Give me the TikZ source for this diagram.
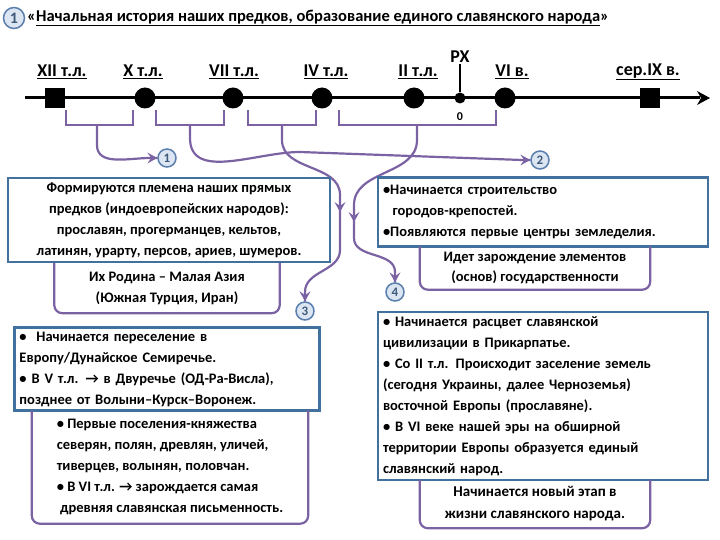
\documentclass[tikz,border=0pt]{standalone}
\usepackage{fontspec}
\setmainfont{Carlito}
\definecolor{bbox}{HTML}{41719C}
\definecolor{pur}{HTML}{7B62A3}
\definecolor{cfill}{HTML}{DCE6F2}
\definecolor{cbord}{HTML}{5A7FAE}
\newcommand\mytipd[2][pur]{\fill[#1] (#2) ++(-5.5,-10) -- (#2) -- ++(5.5,-10) -- ++(-5.5,4) -- cycle;}
\newcommand\mytipr[2][pur]{\fill[#1] (#2) ++(-10,-5.5) -- (#2) -- ++(-10,5.5) -- ++(4,-5.5) -- cycle;}
\begin{document}
\begin{tikzpicture}[x=1pt,y=-1pt,
  every node/.style={font=\bfseries\fontsize{14.5}{21}\selectfont},
  box/.style={draw=bbox,line width=2.5pt,fill=white,inner sep=4pt,align=center},
  sub/.style={inner sep=3pt,align=center},
  num/.style={circle,draw=cbord,line width=1.5pt,fill=cfill,inner sep=0pt,minimum size=18pt,font=\bfseries\fontsize{13}{13}\selectfont,text=cbord!70!black},
  plink/.style={draw=pur,line width=2.2pt},
  lab/.style={font=\bfseries\fontsize{18}{18}\selectfont,inner sep=1pt},
  dot/.style={circle,fill=black,inner sep=0pt,minimum size=21pt},
  sq/.style={fill=black,inner sep=0pt,minimum size=20pt}]
\useasboundingbox (0,0) rectangle (720,540);
% title
\node[num,minimum size=21pt,font=\bfseries\fontsize{16}{16}\selectfont] (t1) at (14,18) {1};
\node[anchor=west,inner sep=0pt,font=\bfseries\fontsize{16.5}{17}\selectfont] (title) at (27,18) {«\underline{Начальная история наших предков, образование единого славянского народа}»};
% timeline
\coordinate (ls) at (25,98);
\coordinate (le) at (710,98);
\draw[line width=3pt] (ls) -- (700,98);
\fill[black] (le) ++(-13,-7) -- (le) -- ++(-13,7) -- ++(4,-7) -- cycle;
\node[sq] (m1) at (55,98) {};
\node[dot] (m2) at (145,98) {};
\node[dot] (m3) at (233,98) {};
\node[dot] (m4) at (322,98) {};
\node[dot] (m5) at (414,98) {};
\node[circle,fill=black,inner sep=0pt,minimum size=11pt] (m0) at (460,98) {};
\node[dot] (m6) at (505,98) {};
\node[sq] (m7) at (650,98) {};
\node[lab] (l1) at (62,72) {\underline{XII т.л.}};
\node[lab] (l2) at (143,72) {\underline{X т.л.}};
\node[lab] (l3) at (234,72) {\underline{VII т.л.}};
\node[lab] (l4) at (326,72) {\underline{IV т.л.}};
\node[lab] (l5) at (418,72) {\underline{II т.л.}};
\node[lab] (l0) at (460,57) {PX};
\node[lab] (l6) at (512,72) {\underline{VI в.}};
\node[lab] (l7) at (648,72) {\underline{сер.IX в.}};
\node[font=\bfseries\fontsize{12}{12}\selectfont,inner sep=0pt] (z) at (460,117) {0};
\draw[line width=1.5pt] (l0.south) -- (m0);
% numbered circles
\node[num] (c1) at (167,158) {1};
\node[num] (c2) at (540,160) {2};
\node[num] (c3) at (305,311) {3};
\node[num] (c4) at (395,292) {4};
% brackets
\draw[plink] (66,110) -- (66,125) -- (133,125) -- (133,110);
\draw[plink] (156,110) -- (156,125) -- (224,125) -- (224,110);
\draw[plink] (248,110) -- (248,125) -- (316,125) -- (316,110);
\draw[plink] (339,110) -- (339,125) -- (496,125) -- (496,110);
% connectors
\draw[plink] (97,125) -- (97,145) to[out=-90,in=180] (150,158) -- (c1.west);
\mytipr{c1.west}
\draw[plink] (190,125) -- (190,138) to[out=-90,in=180] (300,152) -- (522,160) -- (c2.west);
\mytipr{c2.west}
\coordinate (a3) at (340,212);
\draw[plink] (282,125) -- (282,140) to[out=-90,in=90] (340,195) -- (340,250) to[out=-90,in=90] (305,292) -- (c3.north);
\mytipd{a3}
\mytipd{c3.north}
\coordinate (a4) at (354,222);
\draw[plink] (417,125) -- (417,140) to[out=-90,in=90] (354,205) -- (354,238) to[out=-90,in=90] (395,272) -- (c4.north);
\mytipd{a4}
\mytipd{c4.north}
% left column
\node[box,minimum width=322pt,minimum height=84pt] (A) at (169,220) {Формируются племена наших прямых\\предков (индоевропейских народов):\\прославян, прогерманцев, кельтов,\\латинян, урарту, персов, ариев, шумеров.};
\node[sub,minimum width=225pt,minimum height=50pt] (A2) at (167,288) {Их Родина – Малая Азия\\(Южная Турция, Иран)};
\draw[plink,rounded corners=8pt] (A2.north west) -- (A2.south west) -- (A2.south east) -- (A2.north east);
\node[box,minimum width=305pt,minimum height=82pt,align=left,text width=295pt] (C) at (167,369) {•\ \ Начинается переселение в\\Европу/Дунайское Семиречье.\\• В V т.л. → в Двуречье (ОД-Ра-Висла),\\позднее от Волыни–Курск–Воронеж.};
\node[sub,align=left,minimum width=276pt,minimum height=113pt] (C2) at (170,467) {• Первые поселения-княжества\\северян, полян, древлян, уличей,\\тиверцев, волынян, половчан.\\• В VI т.л. → зарождается самая\\\ древняя славянская письменность.};
\draw[plink,rounded corners=8pt] (C2.north west) -- (C2.south west) -- (C2.south east) -- (C2.north east);
% right column
\node[box,minimum width=330pt,minimum height=69pt,align=left,text width=320pt] (B) at (543,212) {•Начинается строительство\\\ \ городов-крепостей.\\•Появляются первые центры земледелия.};
\node[sub,minimum width=230pt,minimum height=43pt,font=\bfseries\fontsize{14.5}{20}\selectfont] (B2) at (535,268) {Идет зарождение элементов\\(основ) государственности};
\draw[plink,rounded corners=8pt] (B2.north west) -- (B2.south west) -- (B2.south east) -- (B2.north east);
\node[box,minimum width=330pt,minimum height=168pt,align=left,text width=320pt] (D) at (543,396) {• Начинается расцвет славянской\\цивилизации в Прикарпатье.\\• Со II т.л. Происходит заселение земель\\(сегодня Украины, далее Черноземья)\\восточной Европы (прославяне).\\• В VI веке нашей эры на обширной\\территории Европы образуется единый\\славянский народ.};
\node[sub,minimum width=230pt,minimum height=48pt,font=\bfseries\fontsize{15}{22}\selectfont] (D2) at (535,504) {Начинается новый этап в\\жизни славянского народа.};
\draw[plink,rounded corners=8pt] (D2.north west) -- (D2.south west) -- (D2.south east) -- (D2.north east);
\end{tikzpicture}
\end{document}
